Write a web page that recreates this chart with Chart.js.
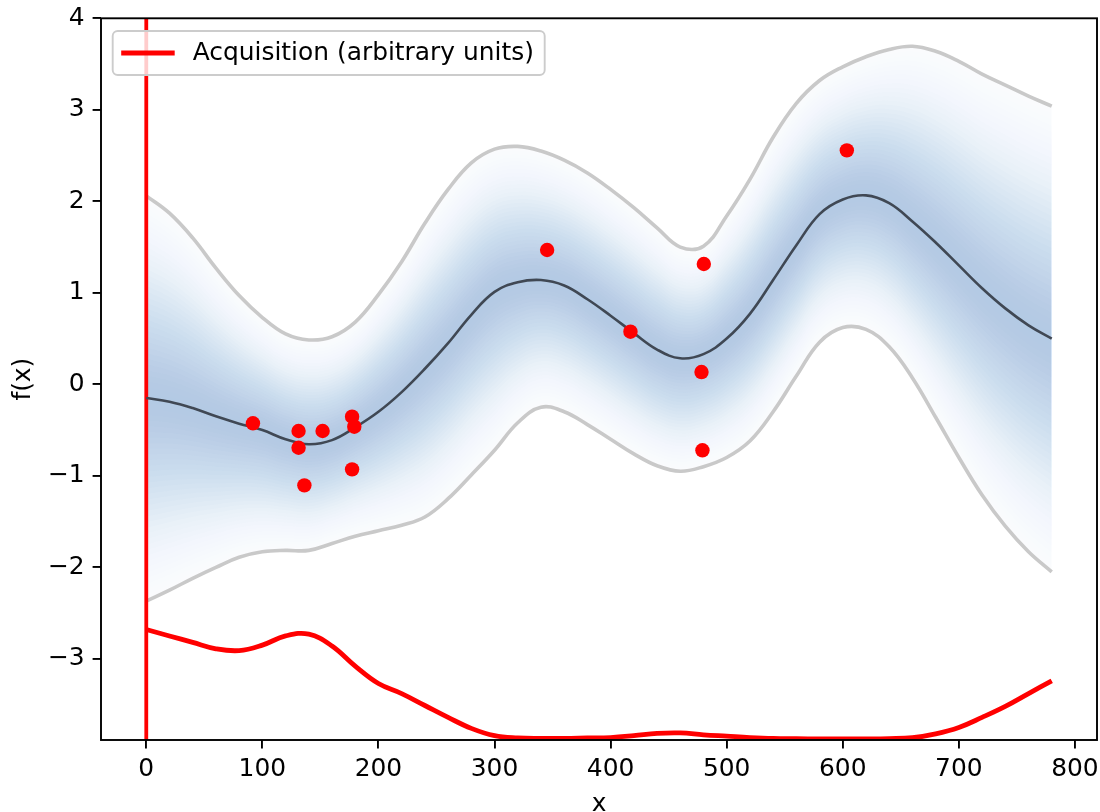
<!DOCTYPE html>
<html><head><meta charset="utf-8">
<script src="https://cdn.jsdelivr.net/npm/chart.js@4.4.1/dist/chart.umd.min.js"></script>
<style>html,body{margin:0;padding:0;background:#fff;overflow:hidden}#wrap{width:1100px;height:812px}</style>
</head><body><div id="wrap"><canvas id="c" width="1100" height="812"></canvas></div>
<script>
// ---- data ----
const xs     = [0,20,40,60,80,100,120,140,160,180,200,220,240,260,280,300,320,340,360,380,400,420,440,460,480,500,520,540,560,580,600,620,640,660,680,700,720,740,760,780];
const meanY  = [-0.15,-0.19,-0.26,-0.35,-0.43,-0.50,-0.60,-0.655,-0.61,-0.47,-0.30,-0.085,0.17,0.45,0.76,1.01,1.115,1.14,1.08,0.93,0.75,0.56,0.38,0.285,0.33,0.50,0.77,1.14,1.52,1.86,2.02,2.065,1.98,1.78,1.55,1.30,1.05,0.83,0.645,0.50];
const upperY = [2.06,1.87,1.60,1.27,0.97,0.73,0.55,0.485,0.52,0.68,0.98,1.34,1.76,2.13,2.42,2.57,2.60,2.55,2.45,2.31,2.13,1.93,1.71,1.50,1.51,1.84,2.24,2.70,3.07,3.32,3.47,3.58,3.66,3.695,3.64,3.53,3.39,3.27,3.15,3.04];
const lowerY = [-2.37,-2.25,-2.12,-2.00,-1.89,-1.83,-1.815,-1.815,-1.74,-1.66,-1.60,-1.54,-1.45,-1.25,-0.99,-0.72,-0.42,-0.25,-0.30,-0.44,-0.60,-0.76,-0.89,-0.95,-0.90,-0.80,-0.62,-0.30,0.09,0.46,0.62,0.60,0.41,0.07,-0.36,-0.80,-1.21,-1.55,-1.83,-2.05];
const acqY   = [-2.68,-2.75,-2.82,-2.89,-2.91,-2.85,-2.75,-2.73,-2.86,-3.08,-3.27,-3.38,-3.51,-3.64,-3.76,-3.84,-3.865,-3.87,-3.87,-3.865,-3.86,-3.84,-3.815,-3.81,-3.83,-3.845,-3.86,-3.87,-3.873,-3.875,-3.875,-3.875,-3.872,-3.862,-3.82,-3.75,-3.64,-3.52,-3.38,-3.24];
const obsX   = [91.9,131.2,151.9,177.3,179.2,131.2,177.3,136.2,345.3,480.3,417.1,478.3,479.1,603.5];
const obsY   = [-0.426,-0.51,-0.51,-0.354,-0.463,-0.693,-0.929,-1.104,1.468,1.315,0.575,0.134,-0.721,2.557];
const acqLineX = 0;
const xTicks = [0,100,200,300,400,500,600,700,800];
const yTicks = [-3,-2,-1,0,1,2,3,4];
const xRange = [-39, 819];
const yRange = [-3.887, 4.0];
const legendLabel = 'Acquisition (arbitrary units)';

// ---- styling ----
const FONT = 'DejaVu Sans';
const FS = 24.9;
const BLUE = [92,132,196];
const N = 36, PEAK = 0.40, K = 2.3;
const TENSION = 0.4;

const pts = (ys) => xs.map((x,i)=>({x, y: ys[i]}));
function O(t){ return t>=1 ? 0 : PEAK*Math.exp(-0.5*(K*t)*(K*t)); }

const datasets = [];
datasets.push({type:'scatter', data: obsX.map((x,i)=>({x, y: obsY[i]})), backgroundColor:'#ff0000', borderWidth:0, pointRadius:7.2, order:0});
datasets.push({data: pts(meanY), borderColor:'rgb(64,72,84)', borderWidth:2.6, pointRadius:0, fill:false, tension:TENSION, order:1});
datasets.push({data: pts(acqY), borderColor:'#ff0000', borderWidth:4.8, pointRadius:0, fill:false, tension:TENSION, order:2});
datasets.push({data: [{x:acqLineX,y:yRange[0]},{x:acqLineX,y:yRange[1]}], borderColor:'#ff0000', borderWidth:3.8, pointRadius:0, fill:false, order:2});
datasets.push({data: pts(upperY), borderColor:'#c9c9c9', borderWidth:3.6, pointRadius:0, fill:false, tension:TENSION, order:3});
datasets.push({data: pts(lowerY), borderColor:'#c9c9c9', borderWidth:3.6, pointRadius:0, fill:false, tension:TENSION, order:3});
for (let j=1;j<=N;j++){
  const t = j/N;
  const Oj = O((j-0.5)/N), On = j<N ? O((j+0.5)/N) : 0;
  const a = 1 - (1-Oj)/(1-On);
  const col = `rgba(${BLUE[0]},${BLUE[1]},${BLUE[2]},${a.toFixed(5)})`;
  const up = xs.map((x,i)=>({x, y: meanY[i] + t*(upperY[i]-meanY[i])}));
  const lo = xs.map((x,i)=>({x, y: meanY[i] - t*(meanY[i]-lowerY[i])}));
  datasets.push({data: up, borderWidth:0, borderColor:'rgba(0,0,0,0)', backgroundColor:col, pointRadius:0, fill:'+1', tension:TENSION, order:10});
  datasets.push({data: lo, borderWidth:0, borderColor:'rgba(0,0,0,0)', backgroundColor:'rgba(0,0,0,0)', pointRadius:0, fill:false, tension:TENSION, order:10});
}

const bgPlugin = {id:'bg', beforeDraw(c){const x=c.ctx; x.save(); x.fillStyle='#fff'; x.fillRect(0,0,c.width,c.height); x.restore();}};
const framePlugin = {id:'frame', afterDatasetsDraw(c){
  const {ctx, chartArea:a} = c;
  ctx.save(); ctx.strokeStyle='#000'; ctx.lineWidth=1.9;
  ctx.strokeRect(a.left, a.top, a.right-a.left, a.bottom-a.top);
  // legend
  const bx=a.left+11.7, by=a.top+12.7, bw=432, bh=44, r=5;
  ctx.beginPath();
  ctx.moveTo(bx+r,by); ctx.lineTo(bx+bw-r,by); ctx.arcTo(bx+bw,by,bx+bw,by+r,r);
  ctx.lineTo(bx+bw,by+bh-r); ctx.arcTo(bx+bw,by+bh,bx+bw-r,by+bh,r);
  ctx.lineTo(bx+r,by+bh); ctx.arcTo(bx,by+bh,bx,by+bh-r,r);
  ctx.lineTo(bx,by+r); ctx.arcTo(bx,by,bx+r,by,r); ctx.closePath();
  ctx.fillStyle='rgba(255,255,255,0.8)'; ctx.fill();
  ctx.strokeStyle='#cccccc'; ctx.lineWidth=1.9; ctx.stroke();
  const ly = by+bh/2;
  ctx.beginPath(); ctx.moveTo(bx+8.5, ly); ctx.lineTo(bx+62, ly);
  ctx.strokeStyle='#ff0000'; ctx.lineWidth=4.8; ctx.stroke();
  ctx.fillStyle='#000'; ctx.font=`${FS}px "${FONT}"`; ctx.textBaseline='middle'; ctx.textAlign='left';
  ctx.fillText(legendLabel, bx+80, ly+1);
  ctx.restore();
}};

const tickFont = {family: FONT, size: FS};
new Chart(document.getElementById('c'), {
  type:'line',
  data:{datasets},
  plugins:[bgPlugin, framePlugin],
  options:{
    responsive:false, animation:false, devicePixelRatio:1,
    layout:{autoPadding:false, padding:{top:18.3, right:3, left:0, bottom:0}},
    plugins:{legend:{display:false}, tooltip:{enabled:false}},
    scales:{
      x:{type:'linear', min:xRange[0], max:xRange[1],
         afterBuildTicks(s){ s.ticks = xTicks.map(v=>({value:v})); },
         afterFit(s){ s.height = 72; s.paddingLeft = 0; s.paddingRight = 0; },
         grid:{display:true, drawOnChartArea:false, drawTicks:true, tickLength:8.4, color:'#000', lineWidth:1.9},
         border:{display:false},
         ticks:{font:tickFont, color:'#000', padding:6, maxRotation:0, autoSkip:false, callback:v=>String(v)},
         title:{display:true, text:'x', font:tickFont, color:'#000', padding:{top:0,bottom:-7}}},
      y:{type:'linear', min:yRange[0], max:yRange[1],
         afterBuildTicks(s){ s.ticks = yTicks.map(v=>({value:v})); },
         afterFit(s){ s.width = 101; s.paddingTop = 0; s.paddingBottom = 0; },
         grid:{display:true, drawOnChartArea:false, drawTicks:true, tickLength:8.4, color:'#000', lineWidth:1.9},
         border:{display:false},
         ticks:{font:tickFont, color:'#000', padding:8, autoSkip:false, callback:v=>String(v).replace('-','\u2212')},
         title:{display:true, text:'f(x)', font:tickFont, color:'#000', padding:{top:9,bottom:0}}}
    }
  }
});
</script></body></html>
